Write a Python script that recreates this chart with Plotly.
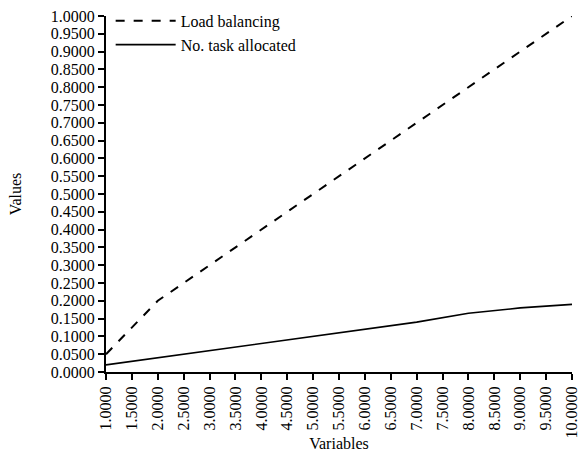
import plotly.graph_objects as go

variables = [1, 2, 3, 4, 5, 6, 7, 8, 9, 10]
load_balancing = [0.05, 0.20, 0.30, 0.40, 0.50, 0.60, 0.70, 0.80, 0.90, 1.00]
tasks_allocated = [0.02, 0.04, 0.06, 0.08, 0.10, 0.12, 0.14, 0.165, 0.18, 0.19]

x_ticks = [1 + 0.5 * i for i in range(19)]
y_ticks = [0.05 * i for i in range(21)]

font_family = "Liberation Serif"

fig = go.Figure()
fig.add_trace(go.Scatter(
    x=variables, y=load_balancing, mode="lines", name="Load balancing",
    line=dict(color="black", width=2, dash="dash"),
))
fig.add_trace(go.Scatter(
    x=variables, y=tasks_allocated, mode="lines", name="No. task allocated",
    line=dict(color="black", width=1.6),
))

axis_common = dict(
    showgrid=False, zeroline=False, showline=True, linecolor="black", linewidth=2,
    ticks="outside", ticklen=6, tickwidth=2, tickcolor="black", automargin=False,
    tickfont=dict(family=font_family, size=16, color="black"),
)

fig.update_layout(
    width=583, height=452,
    margin=dict(l=106, r=11, t=16, b=80, autoexpand=False),
    paper_bgcolor="white", plot_bgcolor="white",
    font=dict(family=font_family, size=16, color="black"),
    showlegend=True,
    legend=dict(
        x=0.01, y=1.034, xanchor="left", yanchor="top",
        bgcolor="rgba(0,0,0,0)", font=dict(family=font_family, size=16),
        tracegroupgap=0, itemwidth=60,
    ),
    xaxis=dict(
        range=[1, 10], tickvals=x_ticks, ticktext=[f"{v:.4f}" for v in x_ticks],
        tickangle=-90, title=dict(text="Variables", standoff=3,
                                  font=dict(family=font_family, size=16)),
        **axis_common,
    ),
    yaxis=dict(
        range=[0, 1.0], tickvals=y_ticks, ticktext=[f"{v:.4f}" for v in y_ticks],
        title=dict(text="Values", standoff=25,
                   font=dict(family=font_family, size=16)),
        **axis_common,
    ),
)

fig.write_html("out.html")
